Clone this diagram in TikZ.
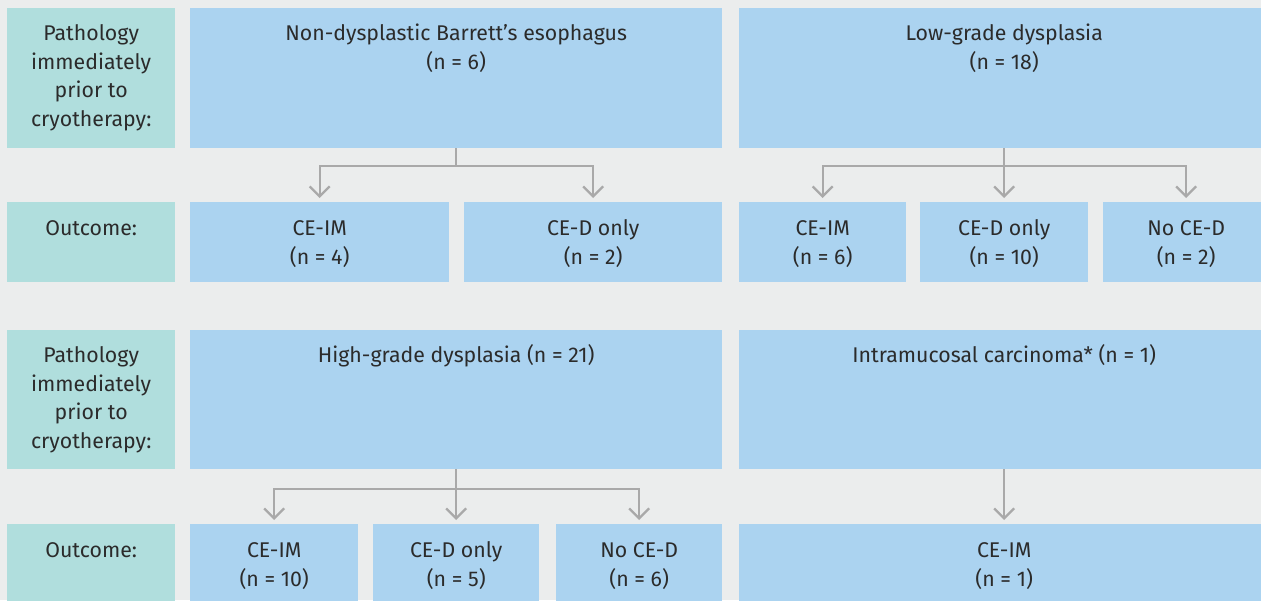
\documentclass[tikz,border=0pt]{standalone}
\usepackage{fontspec}
\setmainfont{Fira Sans}
\usetikzlibrary{arrows.meta}
\definecolor{bgc}{HTML}{EBEDED}
\definecolor{boxblue}{HTML}{ABD3F0}
\definecolor{boxteal}{HTML}{B0DEDD}
\definecolor{linec}{HTML}{A9A9A9}
\definecolor{txtc}{HTML}{2B2B2B}
\newcommand{\firstln}{\rule{0pt}{20pt}}
\begin{document}
\begin{tikzpicture}[x=1pt,y=-1pt,
  box/.style={fill=boxblue, draw=none, inner sep=0, anchor=north west},
  lab/.style={fill=boxteal, draw=none, inner sep=0, anchor=north west},
  txt/.style={anchor=north, align=center, font=\fontsize{21.3}{28.8}\selectfont, text=txtc, inner sep=0},
  conn/.style={draw=linec, line width=2.3pt},
  arr/.style={conn, shorten >=4pt, -{Straight Barb[length=10pt,width=20pt,line width=2.3pt]}}]
\useasboundingbox (0,0) rectangle (1261,600);
\clip (0,0) rectangle (1261,600);
\fill[bgc] (0,0) rectangle (1261,600);
% section 1
\node[lab, minimum width=168pt, minimum height=140pt] (l1) at (7,8) {};
\node[box, minimum width=532pt, minimum height=140pt] (ndbe) at (190,8) {};
\node[box, minimum width=530pt, minimum height=140pt] (lgd) at (739,8) {};
\node[lab, minimum width=168pt, minimum height=80pt] (ol1) at (7,202) {};
\node[box, minimum width=259pt, minimum height=80pt] (o1a) at (190,202) {};
\node[box, minimum width=258pt, minimum height=80pt] (o1b) at (464,202) {};
\node[box, minimum width=167pt, minimum height=80pt] (o1c) at (739,202) {};
\node[box, minimum width=168pt, minimum height=80pt] (o1d) at (920,202) {};
\node[box, minimum width=166pt, minimum height=80pt] (o1e) at (1103,202) {};
% section 2
\node[lab, minimum width=168pt, minimum height=139pt] (l2) at (7,330) {};
\node[box, minimum width=532pt, minimum height=139pt] (hgd) at (190,330) {};
\node[box, minimum width=530pt, minimum height=139pt] (imc) at (739,330) {};
\node[lab, minimum width=168pt, minimum height=82pt] (ol2) at (7,524) {};
\node[box, minimum width=168pt, minimum height=82pt] (o2a) at (190,524) {};
\node[box, minimum width=166pt, minimum height=82pt] (o2b) at (373,524) {};
\node[box, minimum width=166pt, minimum height=82pt] (o2c) at (556,524) {};
\node[box, minimum width=530pt, minimum height=82pt] (o2d) at (739,524) {};
% texts
\node[txt] (l1t) at ([yshift=-12pt]l1.north) {\firstln Pathology\\immediately\\prior to\\cryotherapy:};
\node[txt] (ndbet) at ([yshift=-12pt]ndbe.north) {\firstln Non-dysplastic Barrett’s esophagus\\(n = 6)};
\node[txt] (lgdt) at ([yshift=-12pt]lgd.north) {\firstln Low-grade dysplasia\\(n = 18)};
\node[txt] (ol1t) at ([yshift=-13pt]ol1.north) {\firstln Outcome:};
\node[txt] (o1at) at ([yshift=-13pt]o1a.north) {\firstln CE-IM\\(n = 4)};
\node[txt] (o1bt) at ([yshift=-13pt]o1b.north) {\firstln CE-D only\\(n = 2)};
\node[txt] (o1ct) at ([yshift=-13pt]o1c.north) {\firstln CE-IM\\(n = 6)};
\node[txt] (o1dt) at ([yshift=-13pt]o1d.north) {\firstln CE-D only\\(n = 10)};
\node[txt] (o1et) at ([yshift=-13pt]o1e.north) {\firstln No CE-D\\(n = 2)};
\node[txt] (l2t) at ([yshift=-12pt]l2.north) {\firstln Pathology\\immediately\\prior to\\cryotherapy:};
\node[txt] (hgdt) at ([yshift=-12pt]hgd.north) {\firstln High-grade dysplasia (n = 21)};
\node[txt] (imct) at ([yshift=-12pt]imc.north) {\firstln Intramucosal carcinoma* (n = 1)};
\node[txt] (ol2t) at ([yshift=-13pt]ol2.north) {\firstln Outcome:};
\node[txt] (o2at) at ([yshift=-13pt]o2a.north) {\firstln CE-IM\\(n = 10)};
\node[txt] (o2bt) at ([yshift=-13pt]o2b.north) {\firstln CE-D only\\(n = 5)};
\node[txt] (o2ct) at ([yshift=-13pt]o2c.north) {\firstln No CE-D\\(n = 6)};
\node[txt] (o2dt) at ([yshift=-13pt]o2d.north) {\firstln CE-IM\\(n = 1)};
% connectors
\coordinate (b1) at (0,166);
\coordinate (b2) at (0,489);
\draw[arr] (ndbe.south) -- (ndbe.south |- b1) -| (o1a.north);
\draw[arr] (ndbe.south) -- (ndbe.south |- b1) -| (o1b.north);
\draw[arr] (lgd.south) -- (lgd.south |- b1) -| (o1c.north);
\draw[arr] (lgd.south) -- (o1d.north);
\draw[arr] (lgd.south) -- (lgd.south |- b1) -| (o1e.north);
\draw[arr] (hgd.south) -- (hgd.south |- b2) -| (o2a.north);
\draw[arr] (hgd.south) -- (o2b.north);
\draw[arr] (hgd.south) -- (hgd.south |- b2) -| (o2c.north);
\draw[arr] (imc.south) -- (o2d.north);
\end{tikzpicture}
\end{document}
